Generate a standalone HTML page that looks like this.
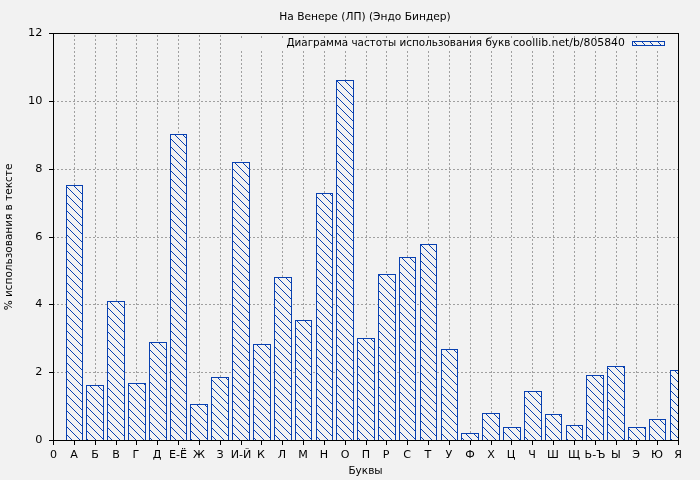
<!DOCTYPE html>
<html lang="ru"><head><meta charset="utf-8"><title>На Венере (ЛП) (Эндо Биндер)</title>
<style>html,body{margin:0;padding:0;background:#f2f2f2;overflow:hidden}svg{display:block;will-change:transform}text{font-family:'DejaVu Sans Condensed','DejaVu Sans','Liberation Sans',sans-serif;font-size:11px;fill:#000}</style>
</head><body>
<svg width="700" height="480" viewBox="0 0 700 480">
<defs><pattern id="h" width="8" height="8" patternUnits="userSpaceOnUse"><g fill="#0840b0" shape-rendering="crispEdges"><rect x="0" y="0" width="1" height="1"/><rect x="1" y="1" width="1" height="1"/><rect x="2" y="2" width="1" height="1"/><rect x="3" y="3" width="1" height="1"/><rect x="4" y="4" width="1" height="1"/><rect x="5" y="5" width="1" height="1"/><rect x="6" y="6" width="1" height="1"/><rect x="7" y="7" width="1" height="1"/></g></pattern>
<clipPath id="c"><rect x="53" y="33" width="626" height="408"/></clipPath></defs>
<rect width="700" height="480" fill="#f2f2f2"/>
<g stroke="#a0a0a0" stroke-width="1" stroke-dasharray="2,2" shape-rendering="crispEdges" fill="none">
<path d="M74.5,441 V34"/>
<path d="M95.5,441 V34"/>
<path d="M116.5,441 V34"/>
<path d="M136.5,441 V34"/>
<path d="M157.5,441 V34"/>
<path d="M178.5,441 V34"/>
<path d="M199.5,441 V34"/>
<path d="M220.5,441 V34"/>
<path d="M241.5,441 V51"/><path d="M241.5,38 V36"/>
<path d="M261.5,441 V51"/><path d="M261.5,38 V36"/>
<path d="M282.5,441 V51"/><path d="M282.5,38 V36"/>
<path d="M303.5,441 V51"/><path d="M303.5,38 V36"/>
<path d="M324.5,441 V51"/><path d="M324.5,38 V36"/>
<path d="M345.5,441 V51"/><path d="M345.5,38 V36"/>
<path d="M366.5,441 V51"/><path d="M366.5,38 V36"/>
<path d="M386.5,441 V51"/><path d="M386.5,38 V36"/>
<path d="M407.5,441 V51"/><path d="M407.5,38 V36"/>
<path d="M428.5,441 V51"/><path d="M428.5,38 V36"/>
<path d="M449.5,441 V51"/><path d="M449.5,38 V36"/>
<path d="M470.5,441 V51"/><path d="M470.5,38 V36"/>
<path d="M491.5,441 V51"/><path d="M491.5,38 V36"/>
<path d="M511.5,441 V51"/><path d="M511.5,38 V36"/>
<path d="M532.5,441 V51"/><path d="M532.5,38 V36"/>
<path d="M553.5,441 V51"/><path d="M553.5,38 V36"/>
<path d="M574.5,441 V51"/><path d="M574.5,38 V36"/>
<path d="M595.5,441 V51"/><path d="M595.5,38 V36"/>
<path d="M616.5,441 V51"/><path d="M616.5,38 V36"/>
<path d="M636.5,441 V51"/><path d="M636.5,38 V36"/>
<path d="M657.5,441 V51"/><path d="M657.5,38 V36"/>
<path d="M53,372.5 H678"/>
<path d="M53,304.5 H678"/>
<path d="M53,237.5 H678"/>
<path d="M53,169.5 H678"/>
<path d="M53,101.5 H678"/>
</g>
<g clip-path="url(#c)">
<rect x="66" y="185" width="17" height="255" fill="#f2f2f2"/>
<rect x="66" y="185" width="17" height="255" fill="url(#h)"/>
<rect x="66.5" y="185.5" width="16" height="255" fill="none" stroke="#0840b0" stroke-width="1" shape-rendering="crispEdges"/>
<rect x="86" y="385" width="18" height="55" fill="#f2f2f2"/>
<rect x="86" y="385" width="18" height="55" fill="url(#h)"/>
<rect x="86.5" y="385.5" width="17" height="55" fill="none" stroke="#0840b0" stroke-width="1" shape-rendering="crispEdges"/>
<rect x="107" y="301" width="18" height="139" fill="#f2f2f2"/>
<rect x="107" y="301" width="18" height="139" fill="url(#h)"/>
<rect x="107.5" y="301.5" width="17" height="139" fill="none" stroke="#0840b0" stroke-width="1" shape-rendering="crispEdges"/>
<rect x="128" y="383" width="18" height="57" fill="#f2f2f2"/>
<rect x="128" y="383" width="18" height="57" fill="url(#h)"/>
<rect x="128.5" y="383.5" width="17" height="57" fill="none" stroke="#0840b0" stroke-width="1" shape-rendering="crispEdges"/>
<rect x="149" y="342" width="18" height="98" fill="#f2f2f2"/>
<rect x="149" y="342" width="18" height="98" fill="url(#h)"/>
<rect x="149.5" y="342.5" width="17" height="98" fill="none" stroke="#0840b0" stroke-width="1" shape-rendering="crispEdges"/>
<rect x="170" y="134" width="17" height="306" fill="#f2f2f2"/>
<rect x="170" y="134" width="17" height="306" fill="url(#h)"/>
<rect x="170.5" y="134.5" width="16" height="306" fill="none" stroke="#0840b0" stroke-width="1" shape-rendering="crispEdges"/>
<rect x="190" y="404" width="18" height="36" fill="#f2f2f2"/>
<rect x="190" y="404" width="18" height="36" fill="url(#h)"/>
<rect x="190.5" y="404.5" width="17" height="36" fill="none" stroke="#0840b0" stroke-width="1" shape-rendering="crispEdges"/>
<rect x="211" y="377" width="18" height="63" fill="#f2f2f2"/>
<rect x="211" y="377" width="18" height="63" fill="url(#h)"/>
<rect x="211.5" y="377.5" width="17" height="63" fill="none" stroke="#0840b0" stroke-width="1" shape-rendering="crispEdges"/>
<rect x="232" y="162" width="18" height="278" fill="#f2f2f2"/>
<rect x="232" y="162" width="18" height="278" fill="url(#h)"/>
<rect x="232.5" y="162.5" width="17" height="278" fill="none" stroke="#0840b0" stroke-width="1" shape-rendering="crispEdges"/>
<rect x="253" y="344" width="18" height="96" fill="#f2f2f2"/>
<rect x="253" y="344" width="18" height="96" fill="url(#h)"/>
<rect x="253.5" y="344.5" width="17" height="96" fill="none" stroke="#0840b0" stroke-width="1" shape-rendering="crispEdges"/>
<rect x="274" y="277" width="18" height="163" fill="#f2f2f2"/>
<rect x="274" y="277" width="18" height="163" fill="url(#h)"/>
<rect x="274.5" y="277.5" width="17" height="163" fill="none" stroke="#0840b0" stroke-width="1" shape-rendering="crispEdges"/>
<rect x="295" y="320" width="17" height="120" fill="#f2f2f2"/>
<rect x="295" y="320" width="17" height="120" fill="url(#h)"/>
<rect x="295.5" y="320.5" width="16" height="120" fill="none" stroke="#0840b0" stroke-width="1" shape-rendering="crispEdges"/>
<rect x="316" y="193" width="17" height="247" fill="#f2f2f2"/>
<rect x="316" y="193" width="17" height="247" fill="url(#h)"/>
<rect x="316.5" y="193.5" width="16" height="247" fill="none" stroke="#0840b0" stroke-width="1" shape-rendering="crispEdges"/>
<rect x="336" y="80" width="18" height="360" fill="#f2f2f2"/>
<rect x="336" y="80" width="18" height="360" fill="url(#h)"/>
<rect x="336.5" y="80.5" width="17" height="360" fill="none" stroke="#0840b0" stroke-width="1" shape-rendering="crispEdges"/>
<rect x="357" y="338" width="18" height="102" fill="#f2f2f2"/>
<rect x="357" y="338" width="18" height="102" fill="url(#h)"/>
<rect x="357.5" y="338.5" width="17" height="102" fill="none" stroke="#0840b0" stroke-width="1" shape-rendering="crispEdges"/>
<rect x="378" y="274" width="18" height="166" fill="#f2f2f2"/>
<rect x="378" y="274" width="18" height="166" fill="url(#h)"/>
<rect x="378.5" y="274.5" width="17" height="166" fill="none" stroke="#0840b0" stroke-width="1" shape-rendering="crispEdges"/>
<rect x="399" y="257" width="17" height="183" fill="#f2f2f2"/>
<rect x="399" y="257" width="17" height="183" fill="url(#h)"/>
<rect x="399.5" y="257.5" width="16" height="183" fill="none" stroke="#0840b0" stroke-width="1" shape-rendering="crispEdges"/>
<rect x="420" y="244" width="17" height="196" fill="#f2f2f2"/>
<rect x="420" y="244" width="17" height="196" fill="url(#h)"/>
<rect x="420.5" y="244.5" width="16" height="196" fill="none" stroke="#0840b0" stroke-width="1" shape-rendering="crispEdges"/>
<rect x="441" y="349" width="17" height="91" fill="#f2f2f2"/>
<rect x="441" y="349" width="17" height="91" fill="url(#h)"/>
<rect x="441.5" y="349.5" width="16" height="91" fill="none" stroke="#0840b0" stroke-width="1" shape-rendering="crispEdges"/>
<rect x="461" y="433" width="18" height="7" fill="#f2f2f2"/>
<rect x="461" y="433" width="18" height="7" fill="url(#h)"/>
<rect x="461.5" y="433.5" width="17" height="7" fill="none" stroke="#0840b0" stroke-width="1" shape-rendering="crispEdges"/>
<rect x="482" y="413" width="18" height="27" fill="#f2f2f2"/>
<rect x="482" y="413" width="18" height="27" fill="url(#h)"/>
<rect x="482.5" y="413.5" width="17" height="27" fill="none" stroke="#0840b0" stroke-width="1" shape-rendering="crispEdges"/>
<rect x="503" y="427" width="18" height="13" fill="#f2f2f2"/>
<rect x="503" y="427" width="18" height="13" fill="url(#h)"/>
<rect x="503.5" y="427.5" width="17" height="13" fill="none" stroke="#0840b0" stroke-width="1" shape-rendering="crispEdges"/>
<rect x="524" y="391" width="18" height="49" fill="#f2f2f2"/>
<rect x="524" y="391" width="18" height="49" fill="url(#h)"/>
<rect x="524.5" y="391.5" width="17" height="49" fill="none" stroke="#0840b0" stroke-width="1" shape-rendering="crispEdges"/>
<rect x="545" y="414" width="17" height="26" fill="#f2f2f2"/>
<rect x="545" y="414" width="17" height="26" fill="url(#h)"/>
<rect x="545.5" y="414.5" width="16" height="26" fill="none" stroke="#0840b0" stroke-width="1" shape-rendering="crispEdges"/>
<rect x="566" y="425" width="17" height="15" fill="#f2f2f2"/>
<rect x="566" y="425" width="17" height="15" fill="url(#h)"/>
<rect x="566.5" y="425.5" width="16" height="15" fill="none" stroke="#0840b0" stroke-width="1" shape-rendering="crispEdges"/>
<rect x="586" y="375" width="18" height="65" fill="#f2f2f2"/>
<rect x="586" y="375" width="18" height="65" fill="url(#h)"/>
<rect x="586.5" y="375.5" width="17" height="65" fill="none" stroke="#0840b0" stroke-width="1" shape-rendering="crispEdges"/>
<rect x="607" y="366" width="18" height="74" fill="#f2f2f2"/>
<rect x="607" y="366" width="18" height="74" fill="url(#h)"/>
<rect x="607.5" y="366.5" width="17" height="74" fill="none" stroke="#0840b0" stroke-width="1" shape-rendering="crispEdges"/>
<rect x="628" y="427" width="18" height="13" fill="#f2f2f2"/>
<rect x="628" y="427" width="18" height="13" fill="url(#h)"/>
<rect x="628.5" y="427.5" width="17" height="13" fill="none" stroke="#0840b0" stroke-width="1" shape-rendering="crispEdges"/>
<rect x="649" y="419" width="17" height="21" fill="#f2f2f2"/>
<rect x="649" y="419" width="17" height="21" fill="url(#h)"/>
<rect x="649.5" y="419.5" width="16" height="21" fill="none" stroke="#0840b0" stroke-width="1" shape-rendering="crispEdges"/>
<rect x="670" y="370" width="17" height="70" fill="#f2f2f2"/>
<rect x="670" y="370" width="17" height="70" fill="url(#h)"/>
<rect x="670.5" y="370.5" width="16" height="70" fill="none" stroke="#0840b0" stroke-width="1" shape-rendering="crispEdges"/>
</g>
<g stroke="#000" stroke-width="1" shape-rendering="crispEdges" fill="none">
<rect x="53.5" y="33.5" width="625" height="407"/>
<path d="M53.5,440 V445"/>
<path d="M74.5,440 V445"/>
<path d="M95.5,440 V445"/>
<path d="M116.5,440 V445"/>
<path d="M136.5,440 V445"/>
<path d="M157.5,440 V445"/>
<path d="M178.5,440 V445"/>
<path d="M199.5,440 V445"/>
<path d="M220.5,440 V445"/>
<path d="M241.5,440 V445"/>
<path d="M261.5,440 V445"/>
<path d="M282.5,440 V445"/>
<path d="M303.5,440 V445"/>
<path d="M324.5,440 V445"/>
<path d="M345.5,440 V445"/>
<path d="M366.5,440 V445"/>
<path d="M386.5,440 V445"/>
<path d="M407.5,440 V445"/>
<path d="M428.5,440 V445"/>
<path d="M449.5,440 V445"/>
<path d="M470.5,440 V445"/>
<path d="M491.5,440 V445"/>
<path d="M511.5,440 V445"/>
<path d="M532.5,440 V445"/>
<path d="M553.5,440 V445"/>
<path d="M574.5,440 V445"/>
<path d="M595.5,440 V445"/>
<path d="M616.5,440 V445"/>
<path d="M636.5,440 V445"/>
<path d="M657.5,440 V445"/>
<path d="M678.5,440 V445"/>
<path d="M49,440.5 H53"/>
<path d="M49,372.5 H53"/>
<path d="M49,304.5 H53"/>
<path d="M49,237.5 H53"/>
<path d="M49,169.5 H53"/>
<path d="M49,101.5 H53"/>
<path d="M49,33.5 H53"/>
</g>
<text transform="translate(53.5,458.0) scale(1.12,1)" text-anchor="middle" textLength="6.30" lengthAdjust="spacingAndGlyphs">0</text>
<text transform="translate(74.0,458.0) scale(1.12,1)" text-anchor="middle" textLength="6.78" lengthAdjust="spacingAndGlyphs">А</text>
<text transform="translate(95.0,458.0) scale(1.12,1)" text-anchor="middle" textLength="6.80" lengthAdjust="spacingAndGlyphs">Б</text>
<text transform="translate(116.0,458.0) scale(1.12,1)" text-anchor="middle" textLength="6.80" lengthAdjust="spacingAndGlyphs">В</text>
<text transform="translate(136.0,458.0) scale(1.12,1)" text-anchor="middle" textLength="6.05" lengthAdjust="spacingAndGlyphs">Г</text>
<text transform="translate(157.0,458.0) scale(1.12,1)" text-anchor="middle" textLength="7.73" lengthAdjust="spacingAndGlyphs">Д</text>
<text transform="translate(178.0,458.0) scale(1.12,1)" text-anchor="middle" textLength="16.08" lengthAdjust="spacingAndGlyphs">Е-Ё</text>
<text transform="translate(199.0,458.0) scale(1.12,1)" text-anchor="middle" textLength="10.67" lengthAdjust="spacingAndGlyphs">Ж</text>
<text transform="translate(220.0,458.0) scale(1.12,1)" text-anchor="middle" textLength="6.34" lengthAdjust="spacingAndGlyphs">З</text>
<text transform="translate(241.0,458.0) scale(1.12,1)" text-anchor="middle" textLength="18.38" lengthAdjust="spacingAndGlyphs">И-Й</text>
<text transform="translate(261.0,458.0) scale(1.12,1)" text-anchor="middle" textLength="7.03" lengthAdjust="spacingAndGlyphs">К</text>
<text transform="translate(282.0,458.0) scale(1.12,1)" text-anchor="middle" textLength="7.45" lengthAdjust="spacingAndGlyphs">Л</text>
<text transform="translate(303.0,458.0) scale(1.12,1)" text-anchor="middle" textLength="8.55" lengthAdjust="spacingAndGlyphs">М</text>
<text transform="translate(324.0,458.0) scale(1.12,1)" text-anchor="middle" textLength="7.45" lengthAdjust="spacingAndGlyphs">Н</text>
<text transform="translate(345.0,458.0) scale(1.12,1)" text-anchor="middle" textLength="7.80" lengthAdjust="spacingAndGlyphs">О</text>
<text transform="translate(366.0,458.0) scale(1.12,1)" text-anchor="middle" textLength="7.45" lengthAdjust="spacingAndGlyphs">П</text>
<text transform="translate(386.0,458.0) scale(1.12,1)" text-anchor="middle" textLength="5.97" lengthAdjust="spacingAndGlyphs">Р</text>
<text transform="translate(407.0,458.0) scale(1.12,1)" text-anchor="middle" textLength="6.92" lengthAdjust="spacingAndGlyphs">С</text>
<text transform="translate(428.0,458.0) scale(1.12,1)" text-anchor="middle" textLength="6.05" lengthAdjust="spacingAndGlyphs">Т</text>
<text transform="translate(449.0,458.0) scale(1.12,1)" text-anchor="middle" textLength="6.05" lengthAdjust="spacingAndGlyphs">У</text>
<text transform="translate(470.0,458.0) scale(1.12,1)" text-anchor="middle" textLength="8.53" lengthAdjust="spacingAndGlyphs">Ф</text>
<text transform="translate(491.0,458.0) scale(1.12,1)" text-anchor="middle" textLength="6.78" lengthAdjust="spacingAndGlyphs">Х</text>
<text transform="translate(511.0,458.0) scale(1.12,1)" text-anchor="middle" textLength="7.69" lengthAdjust="spacingAndGlyphs">Ц</text>
<text transform="translate(532.0,458.0) scale(1.12,1)" text-anchor="middle" textLength="6.80" lengthAdjust="spacingAndGlyphs">Ч</text>
<text transform="translate(553.0,458.0) scale(1.12,1)" text-anchor="middle" textLength="10.59" lengthAdjust="spacingAndGlyphs">Ш</text>
<text transform="translate(574.0,458.0) scale(1.12,1)" text-anchor="middle" textLength="10.83" lengthAdjust="spacingAndGlyphs">Щ</text>
<text transform="translate(595.0,458.0) scale(1.12,1)" text-anchor="middle" textLength="18.61" lengthAdjust="spacingAndGlyphs">Ь-Ъ</text>
<text transform="translate(616.0,458.0) scale(1.12,1)" text-anchor="middle" textLength="8.73" lengthAdjust="spacingAndGlyphs">Ы</text>
<text transform="translate(636.0,458.0) scale(1.12,1)" text-anchor="middle" textLength="6.92" lengthAdjust="spacingAndGlyphs">Э</text>
<text transform="translate(657.0,458.0) scale(1.12,1)" text-anchor="middle" textLength="10.69" lengthAdjust="spacingAndGlyphs">Ю</text>
<text transform="translate(678.0,458.0) scale(1.12,1)" text-anchor="middle" textLength="6.88" lengthAdjust="spacingAndGlyphs">Я</text>
<text transform="translate(42.4,443.0) scale(1.14,1)" text-anchor="end" textLength="6.30" lengthAdjust="spacingAndGlyphs">0</text>
<text transform="translate(42.4,375.0) scale(1.14,1)" text-anchor="end" textLength="6.30" lengthAdjust="spacingAndGlyphs">2</text>
<text transform="translate(42.4,307.0) scale(1.14,1)" text-anchor="end" textLength="6.30" lengthAdjust="spacingAndGlyphs">4</text>
<text transform="translate(42.4,240.0) scale(1.14,1)" text-anchor="end" textLength="6.30" lengthAdjust="spacingAndGlyphs">6</text>
<text transform="translate(42.4,172.0) scale(1.14,1)" text-anchor="end" textLength="6.30" lengthAdjust="spacingAndGlyphs">8</text>
<text transform="translate(42.4,104.0) scale(1.14,1)" text-anchor="end" textLength="12.59" lengthAdjust="spacingAndGlyphs">10</text>
<text transform="translate(42.4,36.0) scale(1.14,1)" text-anchor="end" textLength="12.59" lengthAdjust="spacingAndGlyphs">12</text>
<text transform="translate(365.0,20.0) scale(1.076,1)" text-anchor="middle" textLength="159.40" lengthAdjust="spacingAndGlyphs">На Венере (ЛП) (Эндо Биндер)</text>
<text transform="translate(365.5,474.0) scale(1.06,1)" text-anchor="middle" textLength="32.30" lengthAdjust="spacingAndGlyphs">Буквы</text>
<text transform="translate(12.3,237.0) rotate(-90) scale(1.06,1)" text-anchor="middle" textLength="138.40" lengthAdjust="spacingAndGlyphs">% использования в тексте</text>
<text transform="translate(286.4,46.0) scale(1.05,1)" text-anchor="start" textLength="213.30" lengthAdjust="spacingAndGlyphs">Диаграмма частоты использования букв</text>
<text transform="translate(624.9,46.0) scale(1.096,1)" text-anchor="end" textLength="102.20" lengthAdjust="spacingAndGlyphs">coollib.net/b/805840</text>
<rect x="632" y="41" width="33" height="5" fill="url(#h)"/>
<rect x="632.5" y="41.5" width="32" height="4" fill="none" stroke="#0840b0" shape-rendering="crispEdges"/>
</svg></body></html>
